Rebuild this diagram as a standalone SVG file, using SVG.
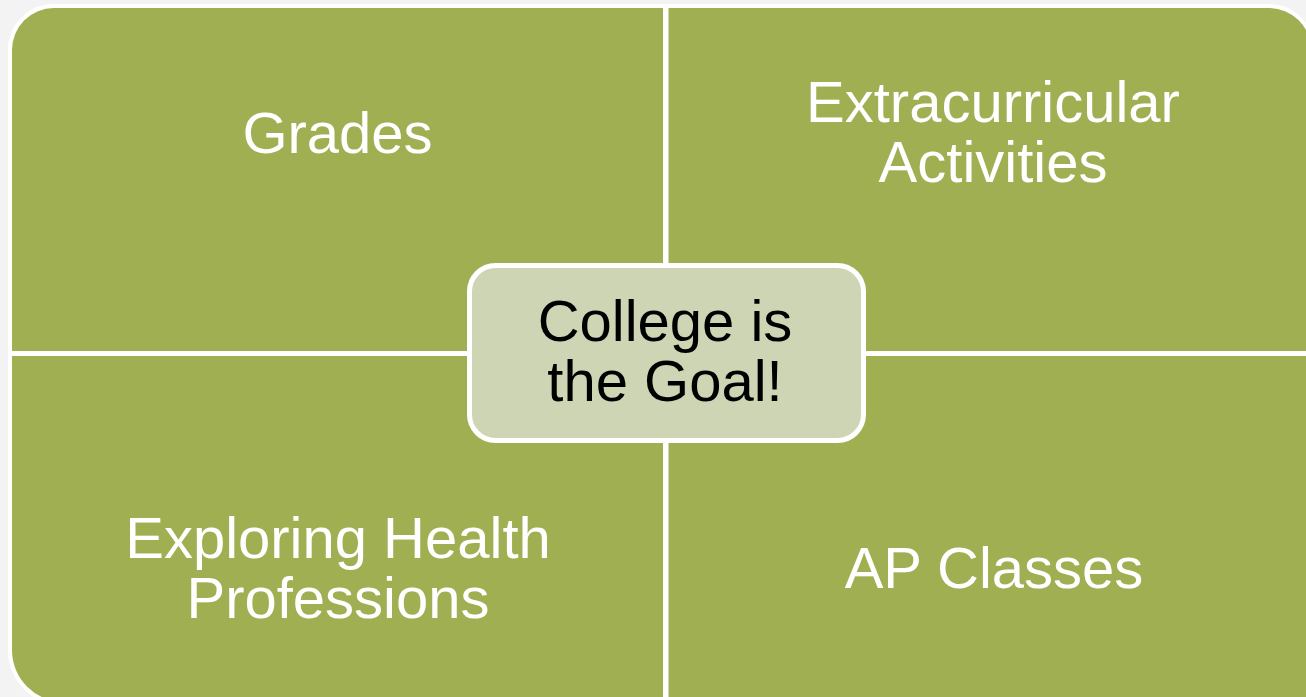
<svg xmlns="http://www.w3.org/2000/svg" width="1306" height="697" viewBox="0 0 1306 697">
  <style>
    .quad { fill: #A0AF52; }
    .label { font-family: "Liberation Sans", Arial, sans-serif; font-size: 58px; text-anchor: middle; }
    .light { fill: #FFFFFF; }
    .dark { fill: #000000; }
    .hub { fill: #CDD5B4; stroke: #FFFFFF; stroke-width: 5; }
  </style>

  <!-- page background -->
  <rect x="0" y="0" width="1306" height="697" fill="#F3F3F3"/>

  <!-- white halo behind the four quadrants; shows through the gaps -->
  <path d="M12,50 A42,42 0 0 1 54,8 H1269 A42,42 0 0 1 1311,50 V702 H64 A52,52 0 0 1 12,650 Z"
        fill="#FFFFFF" stroke="#FFFFFF" stroke-width="8"/>

  <g id="grades">
    <path class="quad" d="M12,351 V50 A42,42 0 0 1 54,8 H663 V351 Z"/>
    <text class="label light" x="337.5" y="153">Grades</text>
  </g>

  <g id="extracurricular">
    <path class="quad" d="M668.5,8 H1269 A42,42 0 0 1 1311,50 V351 H668.5 Z"/>
    <text class="label light" x="993" y="122">Extracurricular</text>
    <text class="label light" x="993" y="182">Activities</text>
  </g>

  <g id="health-professions">
    <path class="quad" d="M12,356 H663 V702 H64 A52,52 0 0 1 12,650 Z"/>
    <text class="label light" x="338" y="558">Exploring Health</text>
    <text class="label light" x="338" y="618">Professions</text>
  </g>

  <g id="ap-classes">
    <path class="quad" d="M668.5,356 H1311 V702 H668.5 Z"/>
    <text class="label light" x="994" y="588">AP Classes</text>
  </g>

  <g id="connectors"></g>

  <g id="goal">
    <rect class="hub" x="469.5" y="265.5" width="394" height="175" rx="26" ry="26"/>
    <text class="label dark" x="665" y="341">College is</text>
    <text class="label dark" x="665" y="401">the Goal!</text>
  </g>
</svg>
